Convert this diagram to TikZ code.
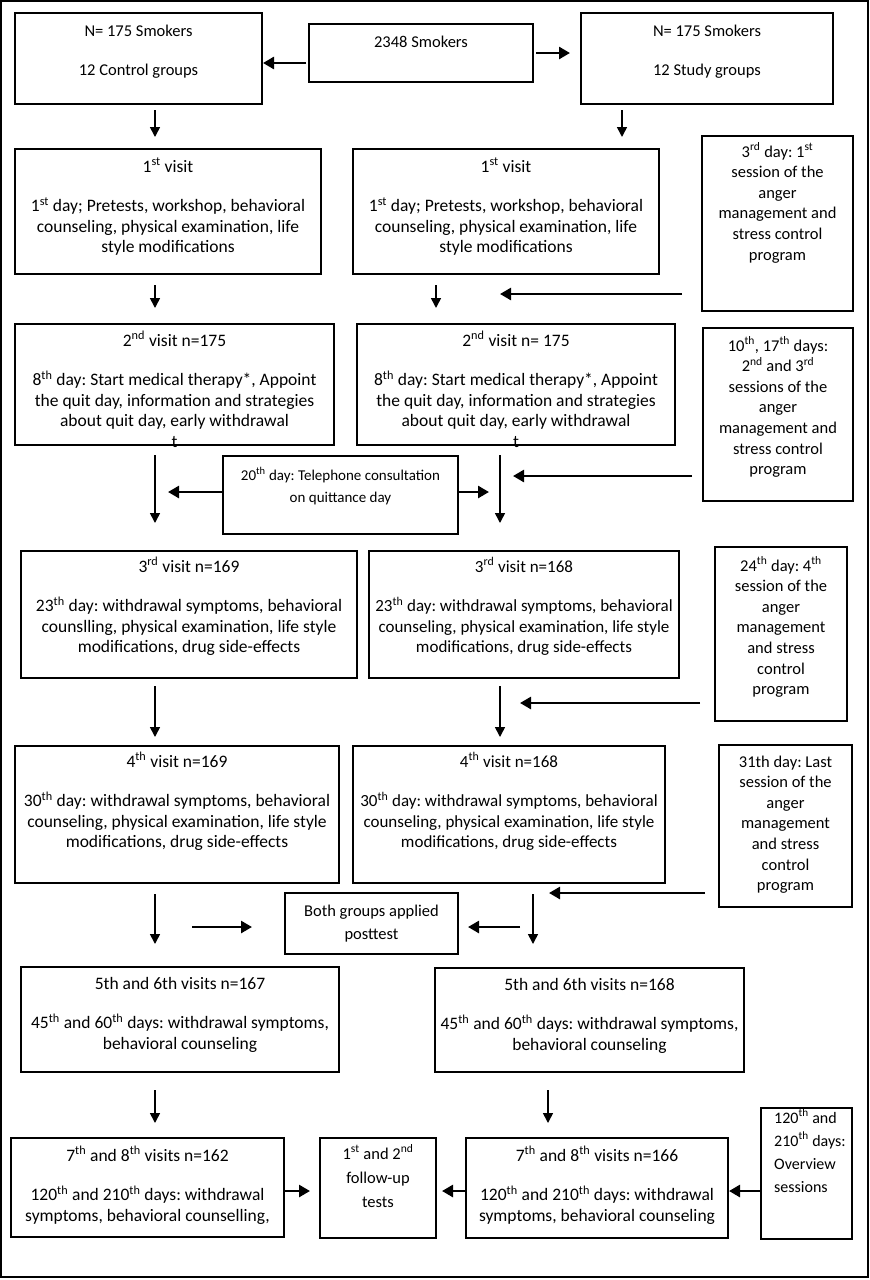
\documentclass[tikz,border=0pt]{standalone}
\usepackage{fontspec}
\setmainfont{Carlito}
\usetikzlibrary{arrows.meta}
\newcommand{\sps}[1]{\textsuperscript{#1}}
\newcommand{\gap}{\\[19pt]}
\newcommand{\bx}[5]{\node[box, anchor=north west, minimum width={#4-#2}, minimum height={#5-#3}] (#1) at (#2,#3) {};}
\newcommand{\bt}[4][]{\node[txt, anchor=base, #1] (#2-t) at ([yshift=-#3pt]#2.north) {#4};}
\begin{document}
\frenchspacing
\begin{tikzpicture}[x=1pt,y=-1pt,
  box/.style={draw, line width=2pt, inner sep=0pt},
  txt/.style={align=flush center, text width=340pt, inner sep=0pt, font=\fontsize{17.5}{20.5}\selectfont\frenchspacing},
  narrow/.style={font=\fontsize{17}{20.5}\selectfont\frenchspacing},
  side/.style={font=\fontsize{16.5}{20.6}\selectfont\frenchspacing},
  varr/.style={line width=1.6pt, -{Triangle[length=10pt,width=10pt]}},
  harr/.style={line width=2.6pt, -{Triangle[length=11pt,width=12pt]}}]
\useasboundingbox (0,0) rectangle (870,1280);
\draw[line width=1.6pt] (1,1) rectangle (868,1277);
% boxes
\bx{ctrl}{14}{12}{261}{103}
\bx{smk}{308}{23}{532}{81}
\bx{study}{580}{12}{832}{103}
\bx{v1c}{14}{148}{320}{273}
\bx{v1s}{352}{148}{658}{273}
\bx{s1}{701}{135}{852}{310}
\bx{v2c}{14}{323}{333}{444}
\bx{v2s}{356}{323}{674}{444}
\bx{s2}{702}{327}{852}{500}
\bx{tel}{222}{455}{457}{533}
\bx{v3c}{20}{550}{356}{677}
\bx{v3s}{368}{550}{678}{677}
\bx{s3}{714}{546}{846}{720}
\bx{v4c}{14}{745}{338}{882}
\bx{v4s}{352}{745}{664}{882}
\bx{s4}{718}{744}{851}{906}
\bx{post}{284}{892}{457}{953}
\bx{v56c}{20}{966}{338}{1071}
\bx{v56s}{434}{967}{743}{1071}
\bx{v78c}{10}{1137}{283}{1236}
\bx{follow}{319}{1137}{435}{1237}
\bx{v78s}{465}{1137}{727}{1237}
\bx{s5}{760}{1107}{851}{1238}
% texts
\bt[side]{ctrl}{24}{N= 175 Smokers\\[19pt]12 Control groups}
\bt[side]{smk}{24}{2348 Smokers}
\bt[side]{study}{24}{N= 175 Smokers\\[19pt]12 Study groups}
\bt{v1c}{24}{1\sps{st} visit\gap 1\sps{st} day; Pretests, workshop, behavioral\\counseling, physical examination, life\\style modifications}
\bt{v1s}{24}{1\sps{st} visit\gap 1\sps{st} day; Pretests, workshop, behavioral\\counseling, physical examination, life\\style modifications}
\bt[side]{s1}{22}{3\sps{rd} day: 1\sps{st}\\session of the\\anger\\management and\\stress control\\program}
\bt{v2c}{23}{2\sps{nd} visit n=175\gap 8\sps{th} day: Start medical therapy*, Appoint\\the quit day, information and strategies\\about quit day, early withdrawal\\t}
\bt{v2s}{23}{2\sps{nd} visit n= 175\gap 8\sps{th} day: Start medical therapy*, Appoint\\the quit day, information and strategies\\about quit day, early withdrawal\\t}
\bt[side]{s2}{24}{10\sps{th}, 17\sps{th} days:\\2\sps{nd} and 3\sps{rd}\\sessions of the\\anger\\management and\\stress control\\program}
\bt[font=\fontsize{15}{22}\selectfont\frenchspacing]{tel}{25}{20\sps{th} day: Telephone consultation\\on quittance day}
\bt{v3c}{22}{3\sps{rd} visit n=169\gap 23\sps{th} day: withdrawal symptoms, behavioral\\counslling, physical examination, life style\\modifications, drug side-effects}
\bt[narrow]{v3s}{22}{3\sps{rd} visit n=168\gap 23\sps{th} day: withdrawal symptoms, behavioral\\counseling, physical examination, life style\\modifications, drug side-effects}
\bt[side]{s3}{25}{24\sps{th} day: 4\sps{th}\\session of the\\anger\\management\\and stress\\control\\program}
\bt{v4c}{22}{4\sps{th} visit n=169\gap 30\sps{th} day: withdrawal symptoms, behavioral\\counseling, physical examination, life style\\modifications, drug side-effects}
\bt[narrow]{v4s}{22}{4\sps{th} visit n=168\gap 30\sps{th} day: withdrawal symptoms, behavioral\\counseling, physical examination, life style\\modifications, drug side-effects}
\bt[side]{s4}{23}{31th day: Last\\session of the\\anger\\management\\and stress\\control\\program}
\bt[font=\fontsize{16.5}{23}\selectfont\frenchspacing]{post}{24}{Both groups applied\\posttest}
\bt{v56c}{23}{5th and 6th visits n=167\gap 45\sps{th} and 60\sps{th} days: withdrawal symptoms,\\behavioral counseling}
\bt{v56s}{23}{5th and 6th visits n=168\gap 45\sps{th} and 60\sps{th} days: withdrawal symptoms,\\behavioral counseling}
\bt{v78c}{24}{7\sps{th} and 8\sps{th} visits n=162\gap 120\sps{th} and 210\sps{th} days: withdrawal\\symptoms, behavioral counselling,}
\bt[font=\fontsize{16.5}{24}\selectfont\frenchspacing]{follow}{22}{1\sps{st} and 2\sps{nd}\\follow-up\\tests}
\bt{v78s}{24}{7\sps{th} and 8\sps{th} visits n=166\gap 120\sps{th} and 210\sps{th} days: withdrawal\\symptoms, behavioral counseling}
\node[txt, align=flush left, text width=80pt, anchor=base west, font=\fontsize{16}{23}\selectfont\frenchspacing] (s5-t) at ([xshift=14pt,yshift=-16pt]s5.north west) {120\sps{th} and\\210\sps{th} days:\\Overview\\sessions};
% helper coordinates
\coordinate (xL) at (155,0);
\coordinate (xR1) at (622,0);
\coordinate (xR2) at (436,0);
\coordinate (xR3) at (500,0);
\coordinate (xR4) at (533,0);
\coordinate (xR5) at (548,0);
\coordinate (rA) at (0,63);
\coordinate (rB) at (0,53);
\coordinate (j1) at (500,294);
\coordinate (tL) at (168,492);
\coordinate (tR) at (489,492);
\coordinate (j2) at (513,476);
\coordinate (j3) at (520,703);
\coordinate (j4) at (549,893);
\coordinate (pL) at (192,927);
\coordinate (pR) at (520,927);
\coordinate (rF) at (0,1191);
% top arrows
\draw[harr, shorten <=2pt] (smk.west |- rA) -- (ctrl.east |- rA);
\draw[harr, shorten <=2pt, shorten >=10pt] (smk.east |- rB) -- (study.west |- rB);
% vertical arrows
\draw[varr, shorten <=5pt, shorten >=11pt] (ctrl.south -| xL) -- (v1c.north -| xL);
\draw[varr, shorten <=5pt, shorten >=11pt] (study.south -| xR1) -- (v1s.north -| xR1);
\draw[varr, shorten <=10pt, shorten >=15pt] (v1c.south -| xL) -- (v2c.north -| xL);
\draw[varr, shorten <=10pt, shorten >=15pt] (v1s.south -| xR2) -- (v2s.north -| xR2);
\draw[varr, shorten <=9pt, shorten >=27pt] (v2c.south -| xL) -- (v3c.north -| xL);
\draw[varr, shorten <=9pt, shorten >=27pt] (v2s.south -| xR3) -- (v3s.north -| xR3);
\draw[varr, shorten <=7pt, shorten >=8pt] (v3c.south -| xL) -- (v4c.north -| xL);
\draw[varr, shorten <=7pt, shorten >=8pt] (v3s.south -| xR3) -- (v4s.north -| xR3);
\draw[varr, shorten <=10pt, shorten >=22pt] (v4c.south -| xL) -- (v56c.north -| xL);
\draw[varr, shorten <=10pt, shorten >=23pt] (v4s.south -| xR4) -- (v56s.north -| xR4);
\draw[varr, shorten <=17pt, shorten >=14pt] (v56c.south -| xL) -- (v78c.north -| xL);
\draw[varr, shorten <=17pt, shorten >=14pt] (v56s.south -| xR5) -- (v78s.north -| xR5);
% side session arrows
\draw[harr, shorten <=19pt] (s1.west |- j1) -- (j1);
\draw[harr, shorten <=10pt] (s2.west |- j2) -- (j2);
\draw[harr, shorten <=14pt] (s3.west |- j3) -- (j3);
\draw[harr, shorten <=13pt] (s4.west |- j4) -- (j4);
\draw[harr] (s5.west |- rF) -- (v78s.east |- rF);
% telephone arrows
\draw[harr] (tel.west |- tL) -- (tL);
\draw[harr] (tel.east |- tR) -- (tR);
% posttest arrows
\draw[harr, shorten >=32pt] (pL) -- (post.west |- pL);
\draw[harr, shorten >=9pt] (pR) -- (post.east |- pR);
% follow-up arrows
\draw[harr, shorten >=9pt] (v78c.east |- rF) -- (follow.west |- rF);
\draw[harr, shorten >=5pt] (v78s.west |- rF) -- (follow.east |- rF);
\end{tikzpicture}
\end{document}
